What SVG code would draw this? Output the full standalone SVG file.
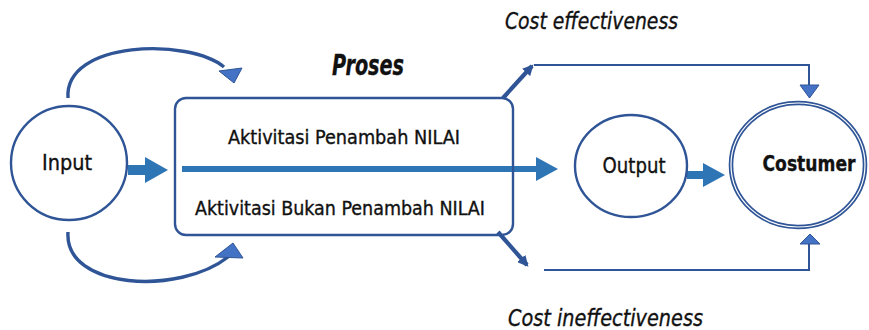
<svg xmlns="http://www.w3.org/2000/svg" width="869" height="330" viewBox="0 0 869 330">
  <style>
    .outline { fill: #ffffff; stroke: #2f5597; stroke-width: 2.4; }
    .thin { fill: none; stroke: #2f5597; stroke-width: 2; }
    .curve { fill: none; stroke: #2f5597; stroke-width: 3.4; }
    .diag { fill: none; stroke: #2f5597; stroke-width: 4.2; }
    .head { fill: #4472c4; stroke: #2f5597; stroke-width: 1; stroke-linejoin: round; }
    .flow { fill: #2e75b6; }
    text { font-family: "Liberation Sans Narrow", "DejaVu Sans Condensed", "Roboto", sans-serif; fill: #111111; stroke: #111111; stroke-width: 0.35; }
    .lbl { font-size: 19.5px; }
    .node { font-size: 22px; text-anchor: middle; }
    .ital { font-size: 23px; font-style: italic; }
  </style>
  <defs>
    <marker id="tip" viewBox="0 0 10 10" refX="8" refY="5" markerWidth="2.6" markerHeight="2.6" orient="auto" markerUnits="strokeWidth">
      <path d="M0,0 L10,5 L0,10 z" fill="#2f5597"/>
    </marker>
  </defs>

  <!-- connectors -->
  <g id="connectors">
    <!-- curved loops from Input -->
    <path class="curve" d="M68,98 C64,40 190,38 224,67"/>
    <polygon class="head" points="219,71 242,68 234,83"/>
    <path class="curve" d="M68,232 C64,290 180,295 228,257"/>
    <polygon class="head" points="215,257 233,243 243,258"/>

    <!-- Input to Proses -->
    <polygon class="flow" points="128,165 145,165 145,157 168,170 145,183 145,175 128,175"/>
    <!-- main value line through Proses to Output -->
    <polygon class="flow" points="182,166 536,166 536,157 558,169 536,181 536,172 182,172"/>
    <!-- Output to Costumer -->
    <polygon class="flow" points="687,171 703,171 703,163 725,175 703,187 703,179 687,179"/>

    <!-- cost effectiveness branch -->
    <line class="diag" x1="503" y1="98" x2="532" y2="66" marker-end="url(#tip)"/>
    <polyline class="thin" points="534,65 809,65 809,86"/>
    <polygon class="head" points="800,85 819,85 809.5,98"/>

    <!-- cost ineffectiveness branch -->
    <line class="diag" x1="498" y1="232" x2="527" y2="265" marker-end="url(#tip)"/>
    <polyline class="thin" points="544,270 809,270 809,243"/>
    <polygon class="head" points="800,244 820,244 810,234"/>
  </g>

  <!-- Input node -->
  <g id="input">
    <ellipse class="outline" cx="69" cy="163" rx="58" ry="57"/>
    <text class="node" x="67" y="170" textLength="50" lengthAdjust="spacingAndGlyphs">Input</text>
  </g>

  <!-- Proses box -->
  <g id="proses">
    <rect class="outline" x="175" y="98" width="338" height="137" rx="11" style="fill:none"/>
    <polygon class="flow" points="182,166 512,166 512,172 182,172"/>
    <text class="lbl" x="228" y="143.5" textLength="232" lengthAdjust="spacingAndGlyphs">Aktivitasi Penambah NILAI</text>
    <text class="lbl" x="195" y="215" textLength="290" lengthAdjust="spacingAndGlyphs">Aktivitasi Bukan Penambah NILAI</text>
    <text x="332" y="75" font-size="29" font-weight="bold" font-style="italic" textLength="72" lengthAdjust="spacingAndGlyphs">Proses</text>
  </g>

  <!-- Output node -->
  <g id="output">
    <ellipse class="outline" cx="631" cy="166" rx="56" ry="51"/>
    <text class="node" x="634" y="173" font-size="23.5" textLength="63" lengthAdjust="spacingAndGlyphs">Output</text>
  </g>

  <!-- Costumer node (double outline) -->
  <g id="costumer">
    <ellipse cx="798" cy="165" rx="67" ry="62" fill="#ffffff" stroke="#2f5597" stroke-width="4.6"/>
    <ellipse cx="798" cy="165" rx="67" ry="62" fill="none" stroke="#ffffff" stroke-width="1.2"/>
    <text class="node" x="809" y="170.5" font-size="25" font-weight="bold" textLength="93" lengthAdjust="spacingAndGlyphs">Costumer</text>
  </g>

  <!-- branch labels -->
  <g id="labels">
    <text class="ital" x="505" y="29" textLength="173" lengthAdjust="spacingAndGlyphs">Cost effectiveness</text>
    <text class="ital" x="508" y="326" textLength="195" lengthAdjust="spacingAndGlyphs">Cost ineffectiveness</text>
  </g>
</svg>
